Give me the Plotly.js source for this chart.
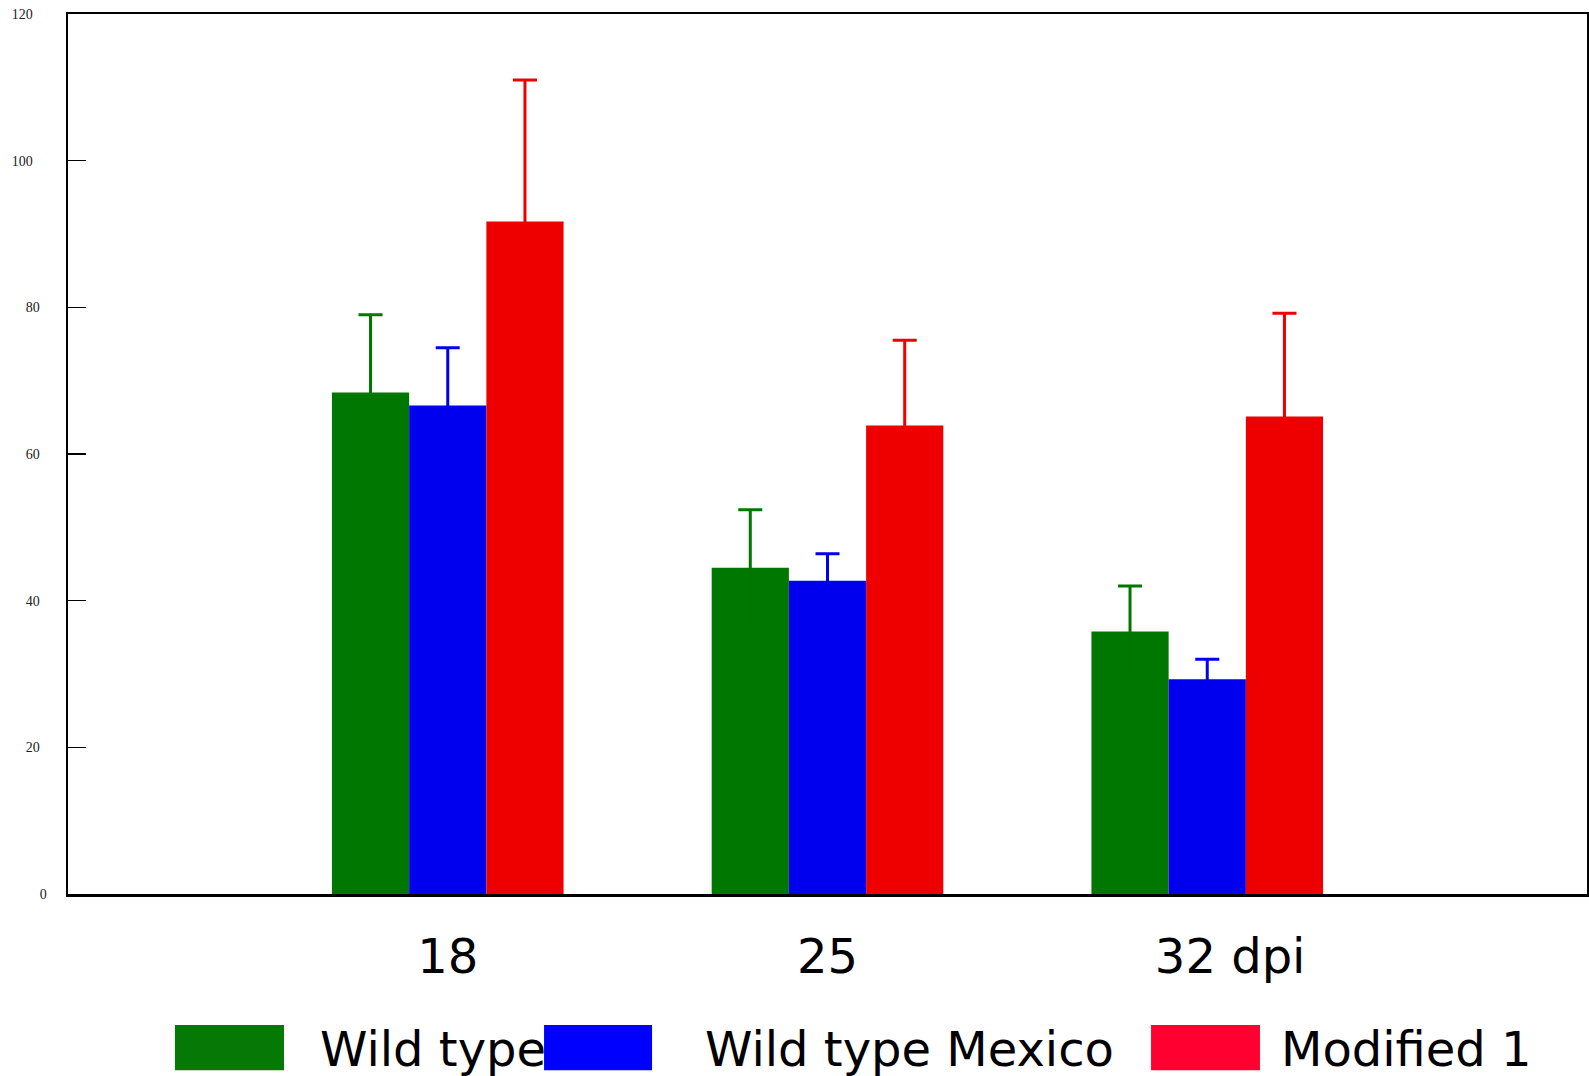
<!DOCTYPE html>
<html>
<head>
<meta charset="utf-8">
<script src="https://cdn.plot.ly/plotly-3.0.1.min.js"></script>
<style>
  html, body { margin: 0; padding: 0; background: #fff; }
  #chart { width: 1589px; height: 1076px; }
</style>
</head>
<body>
<div id="chart"></div>
<script>
// ---- data ----
const categories = ["18", "25", "32 dpi"];
const seriesNames = ["Wild type", "Wild type Mexico", "Modified 1"];
const wildType = [68.4, 44.5, 35.8];
const wildTypeErr = [10.6, 7.9, 6.2];
const wildTypeMexico = [66.6, 42.7, 29.3];
const wildTypeMexicoErr = [7.9, 3.7, 2.7];
const modified1 = [91.7, 63.9, 65.1];
const modified1Err = [19.3, 11.6, 14.1];
const yTickValues = [0, 20, 40, 60, 80, 100, 120];

// ---- styles ----
const barColors = ["#007700", "#0000EE", "#EE0000"];
const legendColors = ["#067806", "#0000FF", "#FF0030"];
const NB = "\u00A0";

const values = [wildType, wildTypeMexico, modified1];
const errs = [wildTypeErr, wildTypeMexicoErr, modified1Err];

const traces = values.map((v, i) => ({
  type: "bar",
  name: seriesNames[i],
  x: categories,
  y: v,
  marker: { color: barColors[i], line: { width: 0 } },
  error_y: {
    type: "data",
    symmetric: true,
    array: errs[i],
    color: barColors[i],
    thickness: 3,
    width: 12,
    visible: true
  },
  hoverinfo: "skip"
}));

// custom legend (large swatches as in the reference)
const legendBoxes = [
  { x0: 0.0704, x1: 0.1422, tx: 0.1645 },
  { x0: 0.3134, x1: 0.3845, tx: 0.4180 },
  { x0: 0.7130, x1: 0.7847, tx: 0.7972 }
];
const shapes = legendBoxes.map((b, i) => ({
  type: "rect", xref: "paper", yref: "paper",
  x0: b.x0, x1: b.x1, y0: -0.2002, y1: -0.149,
  fillcolor: legendColors[i], line: { width: 0 }, layer: "above"
}));
const annotations = legendBoxes.map((b, i) => ({
  xref: "paper", yref: "paper", x: b.tx, y: -0.1763,
  xanchor: "left", yanchor: "middle", showarrow: false,
  text: seriesNames[i],
  font: { family: "DejaVu Sans", size: 48, color: "#000" }
}));

// tick label texts (padding only shifts their placement as in the reference)
const xTickText = [categories[0], categories[1], NB + NB + NB + categories[2]];
const yTickText = yTickValues.map(v => {
  const s = String(v);
  const pad = s.length === 3 ? 4 : (s.length === 2 ? 2 : 0);
  return s + NB.repeat(pad);
});

const layout = {
  width: 1589,
  height: 1076,
  margin: { l: 68, r: 2, t: 14, b: 182 },
  paper_bgcolor: "#fff",
  plot_bgcolor: "#fff",
  showlegend: false,
  barmode: "group",
  bargap: 0.39,
  bargroupgap: 0,
  xaxis: {
    type: "category",
    range: [-1, 3],
    tickmode: "array",
    tickvals: categories,
    ticktext: xTickText,
    showgrid: false,
    zeroline: false,
    showline: true,
    mirror: true,
    linecolor: "#000",
    linewidth: 2.5,
    ticks: "",
    ticklabelstandoff: 19,
    tickfont: { family: "DejaVu Sans", size: 48, color: "#000" }
  },
  yaxis: {
    range: [0, 120],
    tickmode: "array",
    tickvals: yTickValues,
    ticktext: yTickText,
    showgrid: false,
    zeroline: false,
    showline: true,
    mirror: true,
    linecolor: "#000",
    linewidth: 2.5,
    ticks: "inside",
    ticklen: 18,
    tickwidth: 1.2,
    tickcolor: "#000",
    ticklabelstandoff: 16,
    tickfont: { family: "Liberation Serif", size: 14, color: "#222" }
  },
  shapes: shapes,
  annotations: annotations
};

Plotly.newPlot("chart", traces, layout, { displayModeBar: false, staticPlot: true });
</script>
</body>
</html>
